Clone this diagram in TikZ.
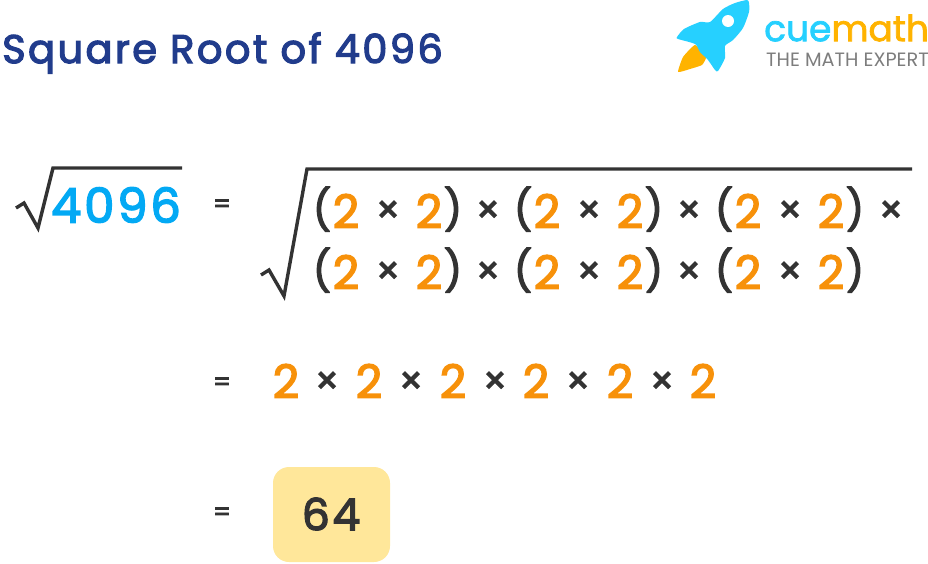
\documentclass[tikz,border=0pt]{standalone}
\usepackage{fontspec}
\setmainfont{Poppins}
\newfontfamily\heavyfont[FakeBold=3]{Poppins}
\newfontfamily\spacedfont[FakeBold=3,LetterSpace=6]{Poppins}
\newfontfamily\logofont[FakeBold=2]{Poppins}
\definecolor{titleblue}{RGB}{33,60,140}
\definecolor{rootblue}{RGB}{3,169,244}
\definecolor{twoorange}{RGB}{247,145,10}
\definecolor{inkgrey}{RGB}{51,51,51}
\definecolor{rocketblue}{RGB}{38,208,255}
\definecolor{flameyellow}{RGB}{255,179,0}
\definecolor{tagyellow}{RGB}{255,231,154}
\definecolor{tagline}{RGB}{125,125,125}
\tikzset{
  two/.style={text=twoorange,font=\heavyfont\fontsize{46}{46}\selectfont,inner sep=0pt},
  times/.style={text=inkgrey,font=\heavyfont\fontsize{38}{38}\selectfont,inner sep=0pt},
  paren/.style={text=inkgrey,font=\heavyfont\fontsize{40}{40}\selectfont,inner sep=0pt},
  equals/.style={text=inkgrey,font=\heavyfont\fontsize{25}{25}\selectfont,inner sep=0pt},
  rootline/.style={draw=inkgrey,line width=3.4pt,line join=miter}
}
\begin{document}
\begin{tikzpicture}[x=1pt,y=-1pt]
    \useasboundingbox (0,0) rectangle (928,563);
    \coordinate (r1) at (16,208);
    \coordinate (r2) at (24,203);
    \coordinate (r3) at (38,228);
    \coordinate (r4) at (53,168);
    \coordinate (r5) at (182,168);
    \coordinate (s1) at (261,275);
    \coordinate (s2) at (269,270);
    \coordinate (s3) at (284,296);
    \coordinate (s4) at (307,169);
    \coordinate (s5) at (912,169);

    \node[text=titleblue,font=\spacedfont\fontsize{40}{40}\selectfont,anchor=west,inner sep=0pt] (Title) at (2,53){Square Root of 4096};

    % logo
    \fill[flameyellow] plot[smooth cycle,tension=0.25] coordinates {(695,45) (706,57) (702,65) (690,69) (678,72) (683,57)};
    \fill[rocketblue] plot[smooth cycle,tension=0.4] coordinates {(747,0) (749,3) (749,12) (743,28) (733,40) (725,46) (725,58) (718,71) (715,70) (708,60) (700,52) (695,44) (678,39) (677,37) (684,29) (700,22) (710,22) (723,9) (735,3)};
    \fill[white] (728,21) circle (6);
    \node[font=\logofont\fontsize{36}{36}\selectfont,anchor=west,inner sep=0pt] (Brand) at (764,28){\textcolor{rocketblue}{cue}\textcolor{flameyellow}{math}};
    \node[text=tagline,font=\fontsize{19.3}{19.3}\selectfont,anchor=west,inner sep=0pt] (Tagline) at (766,60){THE MATH EXPERT};

    % left root
    \draw[rootline] (r1)--(r2)--(r3)--(r4)--(r5);
    \node[text=rootblue,font=\spacedfont\fontsize{48}{48}\selectfont,inner sep=0pt] (Root) at (116,205){4096};
    \node[equals] (Eq1) at (222,206){=};

    % big root
    \draw[rootline] (s1)--(s2)--(s3)--(s4)--(s5);
    \foreach \y/\n in {211/a,272/b}{
      \foreach \xo in {0,201,402}{
        \node[paren] (open\n\xo) at (322+\xo,\y-2){(};
        \node[two] (left\n\xo) at (346+\xo,\y){2};
        \node[times] (cross\n\xo) at (388+\xo,\y+1){×};
        \node[two] (right\n\xo) at (429+\xo,\y){2};
        \node[paren] (close\n\xo) at (453+\xo,\y-2){)};
      }
      \foreach \xo in {488,689}{
        \node[times] (join\n\xo) at (\xo,\y+1){×};
      }
    }
    \node[times] (End) at (891,212){×};

    % third line
    \node[equals] (Eq2) at (222,384){=};
    \foreach \xo in {286,369,453,536,620,703}{
      \node[two] (Two\xo) at (\xo,381){2};
    }
    \foreach \xo in {327,411,495,578,662}{
      \node[times] (Cross\xo) at (\xo,383){×};
    }

    % answer
    \node[equals] (Eq3) at (222,514){=};
    \node[fill=tagyellow,rounded corners=16pt,minimum width=117pt,minimum height=95pt,inner sep=0pt] (Answer) at (331.5,514.5){};
    \node[text=inkgrey,font=\spacedfont\fontsize{44}{44}\selectfont,inner sep=0pt] (Result) at (331,514){64};
\end{tikzpicture}
\end{document}
